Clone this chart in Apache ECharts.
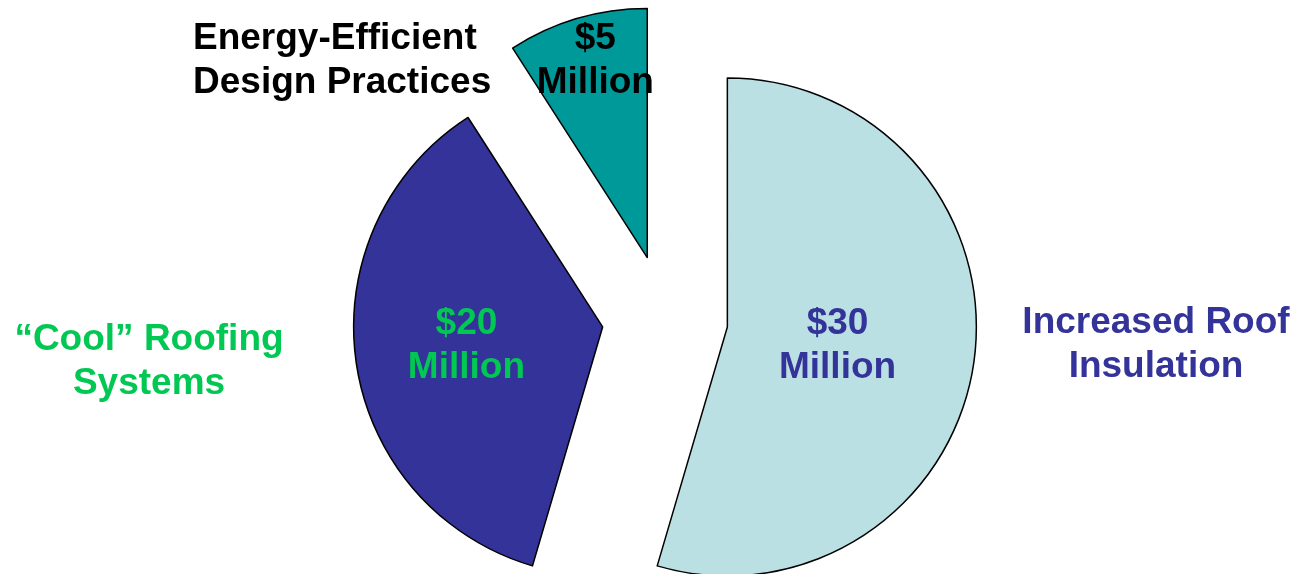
<!DOCTYPE html>
<html>
<head>
<meta charset="utf-8">
<script src="https://cdn.jsdelivr.net/npm/echarts@6/dist/echarts.min.js"></script>
<style>
  html, body { margin: 0; padding: 0; background: #fff; }
  #pieChart { width: 1296px; height: 574px; }
</style>
</head>
<body>
<div id="pieChart"></div>
<script>
// slice data (millions of dollars), clockwise from 12 o'clock
const names = ['Increased Roof\nInsulation', '\u201cCool\u201d Roofing\nSystems', 'Energy-Efficient\nDesign Practices'];
const values = [30, 20, 5];
const sliceColors = ['#bbe0e3', '#333399', '#009999'];
const valueColors = ['#333399', '#00c853', '#000000'];
const nameColors = ['#333399', '#00c853', '#000000'];

const FONT = '"Liberation Sans", Arial, Helvetica, sans-serif';

const chart = echarts.init(document.getElementById('pieChart'));

// small nudges of the in-slice labels
const labelShift = [[-16, 1], [-10, 1], [-16, -74]];

// outer captions
const namePos = [
  { x: 1156, y: 345, align: 'center' },
  { x: 149, y: 362, align: 'center' },
  { x: 193, y: 61, align: 'left' }
];

const option = {
  animation: false,
  series: [
    {
      type: 'pie',
      center: [665, 318],
      radius: 249,
      startAngle: 90,
      clockwise: true,
      selectedMode: 'multiple',
      selectedOffset: 63,
      avoidLabelOverlap: false,
      emphasis: { disabled: true },
      labelLine: { show: false },
      label: {
        show: true,
        position: 'inside',
        fontFamily: FONT,
        fontWeight: 'bold',
        fontSize: 37,
        lineHeight: 44,
        formatter: (p) => '$' + p.value + '\nMillion'
      },
      labelLayout: (p) => ({ dx: labelShift[p.dataIndex][0], dy: labelShift[p.dataIndex][1] }),
      data: values.map((v, i) => ({
        name: names[i],
        value: v,
        selected: true,
        itemStyle: { color: sliceColors[i], borderColor: '#000', borderWidth: 1.5 },
        select: { itemStyle: { color: sliceColors[i], borderColor: '#000', borderWidth: 1.5 } },
        label: { color: valueColors[i] }
      }))
    }
  ],
  graphic: names.map((n, i) => ({
    type: 'text',
    x: namePos[i].x,
    y: namePos[i].y,
    style: {
      text: n,
      fill: nameColors[i],
      fontFamily: FONT,
      fontWeight: 'bold',
      fontSize: 37,
      lineHeight: 44,
      align: namePos[i].align,
      verticalAlign: 'middle'
    }
  }))
};

chart.setOption(option);
</script>
</body>
</html>
